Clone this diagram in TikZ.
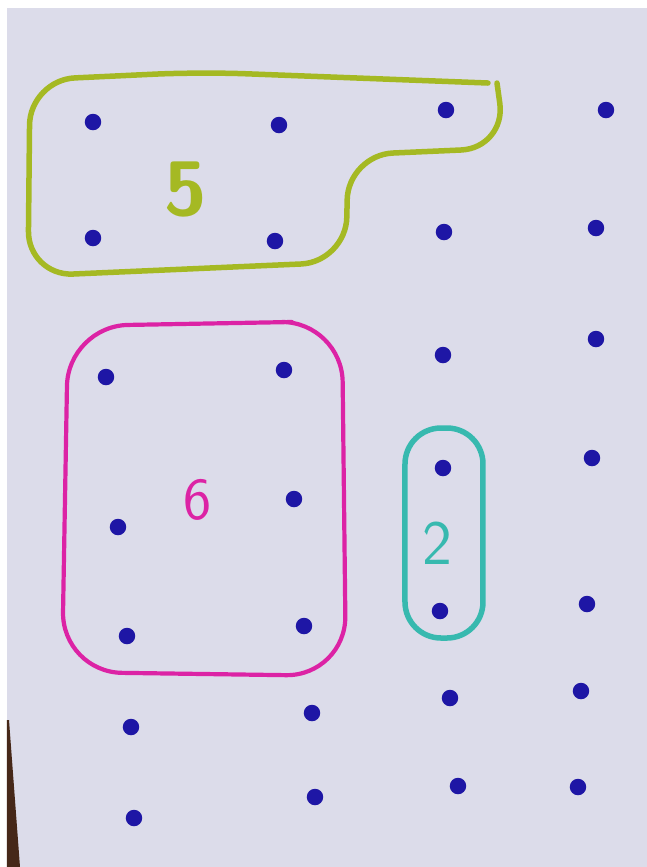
\documentclass[tikz,border=0pt]{standalone}
\usepackage{tikz}
\definecolor{paper}{RGB}{220,220,234}
\definecolor{ink}{RGB}{30,22,165}
\definecolor{olive}{RGB}{165,185,35}
\definecolor{pink}{RGB}{220,35,165}
\definecolor{teal}{RGB}{55,185,175}
\definecolor{wood}{RGB}{70,40,25}
\begin{document}
\begin{tikzpicture}[x=0.1mm, y=-0.1mm,
            dot/.style={circle, fill=ink, minimum size=1.65mm, inner sep=0pt},
            loop/.style={line width=0.55mm, line cap=round, line join=round},
            label/.style={font=\sffamily, inner sep=0pt}
            ]
            \useasboundingbox (0,0) rectangle (647,867);
            \fill[white] (0,0) rectangle (647,867);
            \fill[paper] (7,8) rectangle (647,867);
            \fill[wood] (7,720) -- (9,720) -- (20,867) -- (7,867) -- cycle;

            % grid of dots
            \foreach \x/\y [count=\i] in {93/122, 279/125, 446/110, 606/110,
                                          93/238, 275/241, 444/232, 596/228,
                                          106/377, 284/370, 443/355, 596/339,
                                          118/527, 294/499, 443/468, 592/458,
                                          127/636, 304/626, 440/611, 587/604,
                                          131/727, 312/713, 450/698, 581/691,
                                          134/818, 315/797, 458/786, 578/787}
                \node[dot] (d\i) at (\x,\y) {};

            % loops
            \draw[loop, olive, rounded corners=4.5mm] (488,83) -- (200,72) -- (30,80) -- (28,276) -- (346,262) -- (348,155) -- (506,148) -- (497,83);
            \draw[loop, pink, line width=0.42mm, rounded corners=6mm] (292,322) -- (68,326) -- (62,672) -- (346,676) -- (342,322) -- (285,322);
            \draw[loop, teal, rounded corners=3.6mm] (405,428) rectangle (483,638);

            \node[label, olive, font=\sffamily\bfseries\fontsize{22}{22}\selectfont] (five) at (186,190) {5};
            \node[label, pink, font=\sffamily\fontsize{17}{17}\selectfont] (six) at (198,500) {6};
            \node[label, teal, font=\sffamily\fontsize{18}{18}\selectfont] (two) at (437,543) {2};
\end{tikzpicture}
\end{document}
